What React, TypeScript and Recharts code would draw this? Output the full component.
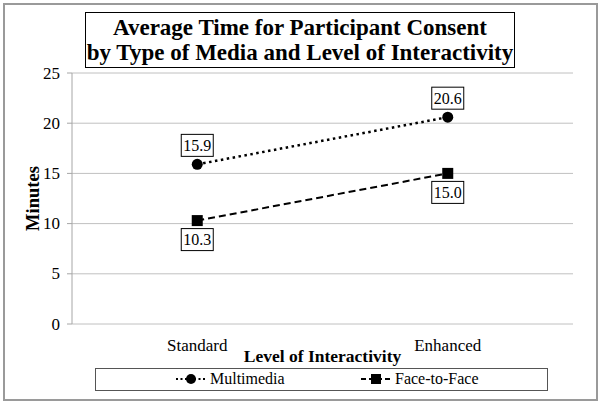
import React from "react";
import {
  LineChart,
  Line,
  XAxis,
  YAxis,
  CartesianGrid,
  Legend,
} from "recharts";

// ---------------------------------------------------------------------------
// Data
// ---------------------------------------------------------------------------

const levels = ["Standard", "Enhanced"];
const multimedia = [15.9, 20.6];
const faceToFace = [10.3, 15.0];
const yTicks = [0, 5, 10, 15, 20, 25];
const boundaryTicks = [0, 1, 2];

const data = levels.map((level, i) => ({
  level,
  pos: i + 0.5,
  multimedia: multimedia[i],
  faceToFace: faceToFace[i],
}));

const FONT = '"Liberation Serif", "Times New Roman", Tinos, "DejaVu Serif", serif';
const AXIS_GREY = "#a6a6a6";

// ---------------------------------------------------------------------------
// Pieces
// ---------------------------------------------------------------------------

function ValueLabel({ x, y, value, below }: any) {
  const cy = below ? y + 19 : y - 19;
  return (
    <g>
      <rect x={x - 16} y={cy - 11} width={32} height={22} fill="#fff" stroke="#000" strokeWidth={1} />
      <text
        x={x}
        y={cy + 5.5}
        textAnchor="middle"
        fill="#000"
        style={{ fontFamily: FONT, fontSize: 16 }}
      >
        {Number(value).toFixed(1)}
      </text>
    </g>
  );
}

function CircleDot({ cx, cy }: any) {
  return <circle cx={cx} cy={cy} r={5.5} fill="#000" />;
}

function SquareDot({ cx, cy }: any) {
  return <rect x={cx - 5.5} y={cy - 5.5} width={11} height={11} fill="#000" />;
}

function CategoryTick({ x, y, payload }: any) {
  return (
    <text x={x} y={y + 27} textAnchor="middle" fill="#000" style={{ fontFamily: FONT, fontSize: 17 }}>
      {payload.value}
    </text>
  );
}

function ValueTick({ x, y, payload }: any) {
  return (
    <text x={x} y={y + 5.5} textAnchor="end" fill="#000" style={{ fontFamily: FONT, fontSize: 17 }}>
      {payload.value}
    </text>
  );
}

function LegendBox() {
  const item = (left: number, dash: string, marker: React.ReactNode, text: string) => (
    <span style={{ position: "absolute", left, top: 1, display: "flex", alignItems: "center", gap: 3, whiteSpace: "nowrap" }}>
      <svg width={32} height={16}>
        <line x1={1} y1={8} x2={31} y2={8} stroke="#000" strokeWidth={2} strokeDasharray={dash} />
        {marker}
      </svg>
      <span>{text}</span>
    </span>
  );
  return (
    <div
      style={{
        position: "relative",
        boxSizing: "border-box",
        width: 453,
        height: 23,
        border: "1px solid #555",
        fontFamily: FONT,
        fontSize: 16,
        lineHeight: "18px",
        color: "#000",
      }}
    >
      {item(79, "2 2.5", <circle cx={16} cy={8} r={5} fill="#000" />, "Multimedia")}
      {item(264, "5 3", <rect x={11} y={3} width={10} height={10} fill="#000" />, "Face-to-Face")}
    </div>
  );
}

// ---------------------------------------------------------------------------
// App
// ---------------------------------------------------------------------------

export default function App() {
  return (
    <div
      style={{
        position: "absolute",
        left: 0,
        top: 0,
        width: 600,
        height: 405,
        background: "#fff",
        fontFamily: FONT,
      }}
    >
      {/* outer frame */}
      <div
        style={{
          position: "absolute",
          left: 3,
          top: 3,
          width: 595,
          height: 398,
          boxSizing: "border-box",
          border: "2px solid #9a9a9a",
        }}
      />
      {/* title box */}
      <div
        style={{
          position: "absolute",
          left: 85,
          top: 12,
          width: 430,
          height: 56,
          boxSizing: "border-box",
          border: "1.5px solid #000",
          fontFamily: FONT,
          fontWeight: "bold",
          fontSize: 23,
          lineHeight: "25px",
          textAlign: "center",
          paddingTop: 2,
          color: "#000",
          zIndex: 2,
          background: "#fff",
          whiteSpace: "nowrap",
        }}
      >
        Average Time for Participant Consent
        <br />
        by Type of Media and Level of Interactivity
      </div>

      <LineChart
        width={600}
        height={405}
        data={data}
        margin={{ top: 73, right: 27, bottom: 30, left: 32 }}
        style={{ position: "absolute", left: 0, top: 0, fontFamily: FONT }}
      >
        <CartesianGrid horizontal vertical={false} stroke="#c0c0c0" strokeWidth={1} />
        <XAxis
          dataKey="pos"
          type="number"
          domain={[0, 2]}
          ticks={boundaryTicks}
          xAxisId="frame"
          tick={() => <g />}
          tickSize={5}
          axisLine={{ stroke: AXIS_GREY }}
          tickLine={{ stroke: AXIS_GREY }}
          height={0}
        />
        <XAxis
          dataKey="level"
          scale="band"
          xAxisId="cat"
          axisLine={false}
          tickLine={false}
          tickSize={0}
          tickMargin={0}
          height={28}
          tick={<CategoryTick />}
          label={{
            value: "Level of Interactivity",
            position: "bottom",
            offset: -2,
            style: { fontSize: 17.5, fontWeight: "bold", fill: "#000", fontFamily: FONT },
          }}
        />
        <YAxis
          domain={[0, 25]}
          ticks={yTicks}
          width={40}
          tickSize={5}
          tickMargin={7}
          axisLine={{ stroke: AXIS_GREY }}
          tickLine={{ stroke: AXIS_GREY }}
          tick={<ValueTick />}
          label={{
            value: "Minutes",
            angle: -90,
            position: "center",
            dx: -20,
            style: { fontSize: 18.5, fontWeight: "bold", fill: "#000", fontFamily: FONT },
          }}
        />
        <Legend
          content={() => <LegendBox />}
          wrapperStyle={{ position: "absolute", left: 95, top: 368, width: 453, height: 23, bottom: "auto" }}
        />
        <Line
          xAxisId="cat"
          dataKey="multimedia"
          name="Multimedia"
          stroke="#000"
          strokeWidth={2.5}
          strokeDasharray="2.5 3.5"
          dot={<CircleDot />}
          activeDot={false}
          label={<ValueLabel />}
          isAnimationActive={false}
        />
        <Line
          xAxisId="cat"
          dataKey="faceToFace"
          name="Face-to-Face"
          stroke="#000"
          strokeWidth={2}
          strokeDasharray="7 4"
          dot={<SquareDot />}
          activeDot={false}
          label={<ValueLabel below />}
          isAnimationActive={false}
        />
      </LineChart>
    </div>
  );
}
